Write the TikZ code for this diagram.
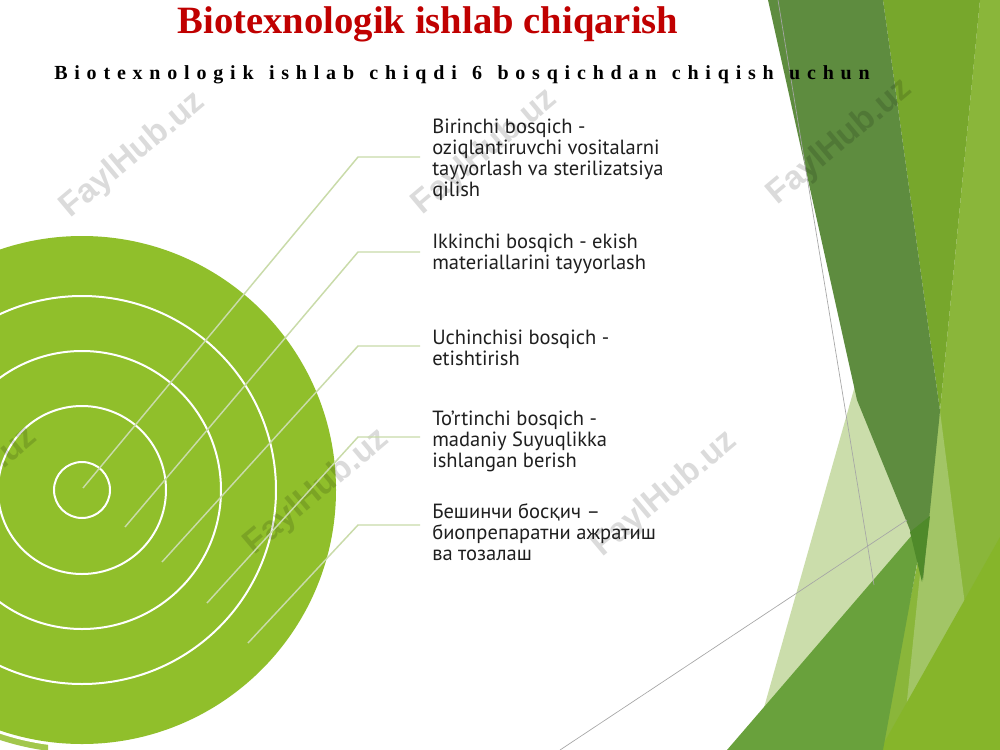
\documentclass[tikz,border=0pt]{standalone}
\usepackage{fontspec}
\setmainfont{PT Sans}
\newfontfamily\titlefont{Liberation Serif}
\newfontfamily\subfont[LetterSpace=34,WordSpace=1.3]{Liberation Serif}
\newfontfamily\wmfont{Liberation Sans}
\definecolor{leaf}{HTML}{90BF2B}
\definecolor{leaflight}{HTML}{A2C74C}
\definecolor{conn}{HTML}{C9DBA9}
\definecolor{titlered}{HTML}{C00000}
\definecolor{darkband}{HTML}{5E8C3F}
\definecolor{midband}{HTML}{77A72C}
\definecolor{rightband}{HTML}{8AB63A}
\definecolor{paletri}{HTML}{CBDDAB}
\definecolor{bottri}{HTML}{69A13C}
\definecolor{brighttri}{HTML}{86B52A}
\definecolor{paleband}{HTML}{A2C566}
\definecolor{overlap}{HTML}{4F8A2A}
\tikzset{
  ring/.style={draw=white, line width=1.5pt},
  connector/.style={draw=conn, line width=1.1pt},
  stage/.style={anchor=west, align=left, inner xsep=9pt, inner ysep=0pt,
     text=black!88, font=\fontsize{15.4}{15.75}\selectfont},
  facetline/.style={draw=black!35, line width=0.5pt},
  watermark/.style={rotate=40, text=black, opacity=0.14,
     font=\wmfont\bfseries\fontsize{25}{30}\selectfont}
}
\begin{document}
\begin{tikzpicture}[x=0.75pt,y=-0.75pt]
\useasboundingbox (0,0) rectangle (1000,750);
\fill[white] (0,0) rectangle (1000,750);
\begin{scope}
\clip (0,0) rectangle (1000,750);
% concentric circles
\begin{scope}
  \clip (0,700) rectangle (48,750);
  \fill[leaflight] (82,490) circle[radius=263];
\end{scope}
\fill[white] (82,490) circle[radius=257];
\fill[leaf] (82,490) circle[radius=254];
\foreach \r in {28,84,139,194} \draw[ring] (82,490) circle[radius=\r];
% facet decoration
\fill[rightband] (980,0) -- (1000,0) -- (1000,750) -- (880,750) -- (925,525) -- (940,411) -- cycle;
\fill[midband] (883,0) -- (980,0) -- (940,411) -- cycle;
\fill[paleband] (940,411) -- (965,605) -- (905,720) -- (925,525) -- cycle;
\fill[brighttri] (1000,537) -- (1000,750) -- (880,750) -- cycle;
\fill[paletri] (858,375) -- (915,540) -- (880,750) -- (752,750) -- cycle;
\fill[darkband] (768,0) -- (883,0) -- (940,411) -- (923,580) -- (910,530) -- (857,400) -- cycle;
\fill[bottri] (727,750) -- (925,520) -- (883,750) -- cycle;
\fill[overlap] (910,532) -- (930,516) -- (922,582) -- cycle;
\coordinate (fa) at (778,0);
\coordinate (fb) at (874,585);
\coordinate (fc) at (560,750);
\coordinate (fd) at (907,520);
\draw[facetline] (fa) -- (fb);
\draw[facetline] (fc) -- (fd);
% watermarks
\node[watermark] (w1) at (133,155) {FaylHub.uz};
\node[watermark] (w2) at (485,152) {FaylHub.uz};
\node[watermark] (w3) at (840,142) {FaylHub.uz};
\node[watermark] (w4) at (-35,490) {FaylHub.uz};
\node[watermark] (w5) at (317,492) {FaylHub.uz};
\node[watermark] (w6) at (665,494) {FaylHub.uz};
\end{scope}
% titles
\node[text=titlered, font=\titlefont\bfseries\fontsize{29}{34}\selectfont] (title) at (428,24) {Biotexnologik ishlab chiqarish};
\node[text=black, font=\subfont\bfseries\fontsize{15}{18}\selectfont] (subtitle) at (462,75) {Biotexnologik ishlab chiqdi 6 bosqichdan chiqish uchun};
% stage texts
\node[stage] (t1) at (420,160) {Birinchi bosqich -\\oziqlantiruvchi vositalarni\\tayyorlash va sterilizatsiya\\qilish};
\node[stage] (t2) at (420,254) {Ikkinchi bosqich - ekish\\materiallarini tayyorlash};
\node[stage] (t3) at (420,348) {Uchinchisi bosqich -\\etishtirish};
\node[stage] (t4) at (420,441) {To'rtinchi bosqich -\\madaniy Suyuqlikka\\ishlangan berish};
\node[stage] (t5) at (420,532) {Бешинчи босқич –\\биопрепаратни ажратиш\\ва тозалаш};
% connectors
\coordinate (s1) at (83,488);  \coordinate (b1) at (358,157); \coordinate (e1) at (420,157);
\coordinate (s2) at (125,527); \coordinate (b2) at (358,252); \coordinate (e2) at (420,252);
\coordinate (s3) at (162,562); \coordinate (b3) at (358,346); \coordinate (e3) at (420,346);
\coordinate (s4) at (207,603); \coordinate (b4) at (358,437); \coordinate (e4) at (420,437);
\coordinate (s5) at (248,643); \coordinate (b5) at (358,525); \coordinate (e5) at (420,525);
\draw[connector] (s1) -- (b1) -- (e1);
\draw[connector] (s2) -- (b2) -- (e2);
\draw[connector] (s3) -- (b3) -- (e3);
\draw[connector] (s4) -- (b4) -- (e4);
\draw[connector] (s5) -- (b5) -- (e5);
\end{tikzpicture}
\end{document}
